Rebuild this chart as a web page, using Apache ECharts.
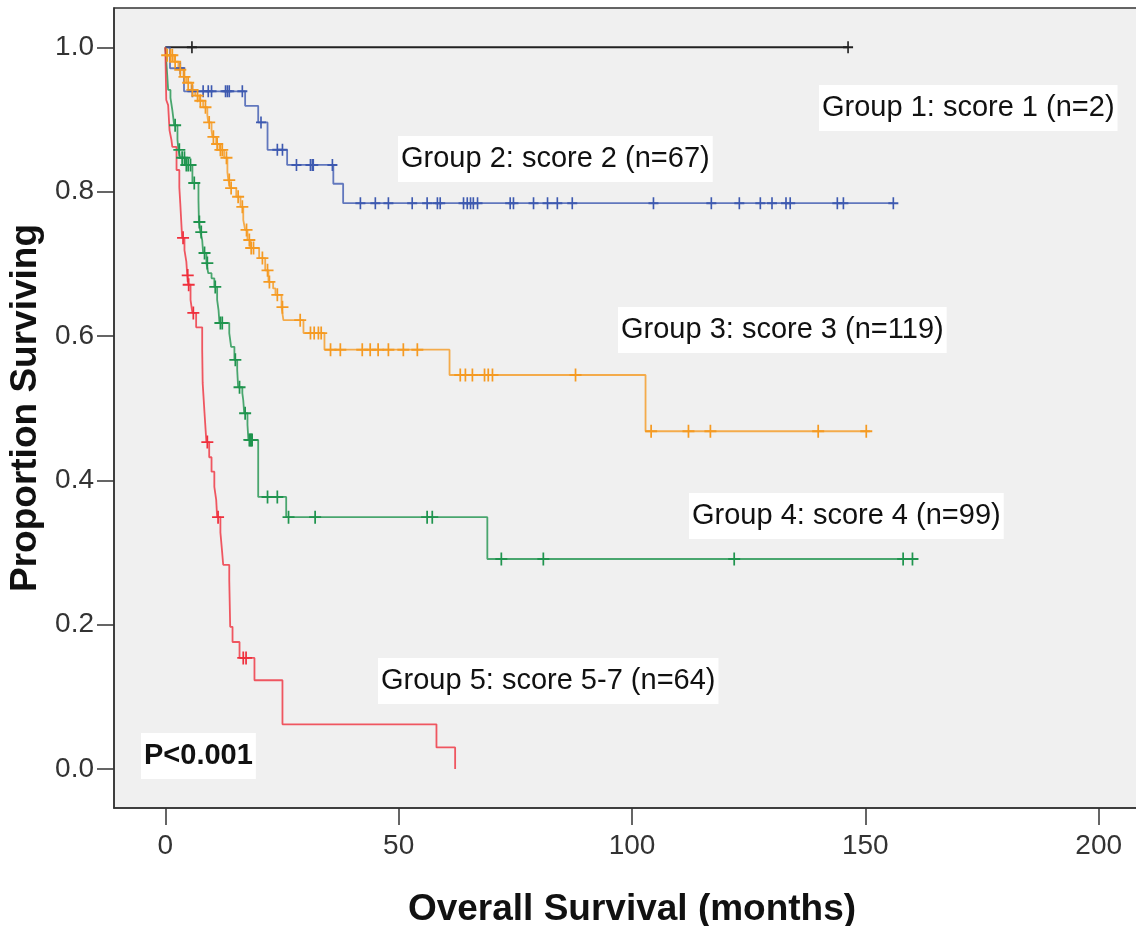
<!DOCTYPE html>
<html>
<head>
<meta charset="utf-8">
<script src="https://cdn.jsdelivr.net/npm/echarts@6/dist/echarts.min.js"></script>
<style>
html,body{margin:0;padding:0;background:#fff;}
#chart{width:1136px;height:926px;}
</style>
</head>
<body>
<div id="chart"></div>
<script>
// ---- Data ----
const xTicks = [0, 50, 100, 150, 200];
const yTicks = [0, 0.2, 0.4, 0.6, 0.8, 1.0];

const groupNames = ['Group 1: score 1 (n=2)', 'Group 2: score 2 (n=67)', 'Group 3: score 3 (n=119)', 'Group 4: score 4 (n=99)', 'Group 5: score 5-7 (n=64)'];

const g1Times = [0, 146.3];
const g1Surv  = [1, 1];
const g1Cens  = [5.7, 146.3];

const g2Times = [0, 1.0, 4.0, 17.1, 19.9, 21.9, 26.1, 36.0, 38.1, 156.0];
const g2Surv  = [1, 0.971, 0.939, 0.919, 0.896, 0.858, 0.837, 0.811, 0.784, 0.784];
const g2Cens  = [3.2, 5.8, 8.1, 9.2, 9.9, 12.9, 13.3, 13.7, 16.5, 20.5, 24.0, 25.1, 28.1, 31.1, 31.5, 31.7, 35.8,
  41.8, 45.0, 47.8, 52.9, 56.1, 58.3, 58.9, 63.9, 64.7, 65.4, 66.0, 66.9, 73.9, 74.6, 78.9, 81.9, 84.0, 87.2,
  104.6, 117.0, 123.0, 127.5, 130.0, 133.0, 133.9, 144.0, 145.3, 156.0];

const g3Times = [0, 0.2, 1.9, 2.8, 3.9, 4.5, 5.6, 6.4, 7.3, 8.1, 9.0, 9.2, 9.9, 10.1, 10.9, 11.6, 12.6, 13.3, 13.5, 13.9, 15.2, 16.1, 16.7, 17.1, 17.6, 18.2, 20.1, 21.4, 22.1, 23.1, 23.6, 24.9, 25.3, 29.6, 34.1, 60.9, 102.9, 151.0];
const g3Surv  = [1, 0.989, 0.980, 0.969, 0.959, 0.951, 0.941, 0.933, 0.926, 0.917, 0.906, 0.896, 0.885, 0.876, 0.866, 0.858, 0.847, 0.827, 0.816, 0.805, 0.793, 0.779, 0.761, 0.747, 0.733, 0.722, 0.708, 0.691, 0.675, 0.666, 0.657, 0.640, 0.622, 0.604, 0.581, 0.546, 0.468, 0.468];
const g3Cens  = [0.4, 1.1, 1.5, 2.1, 3.2, 4.1, 4.9, 5.8, 6.9, 7.5, 8.6, 9.4, 10.3, 11.1, 11.8, 12.2, 13.1, 13.7, 14.1, 15.6, 16.5, 17.4, 18.0, 18.4, 18.9, 20.8, 21.9, 22.3, 24.0, 25.1, 28.9, 31.1, 31.9, 32.8, 33.4,
  35.4, 37.5, 42.2, 43.9, 45.6, 47.8, 51.0, 54.0, 63.2, 64.3, 65.8, 68.4, 69.2, 70.1, 87.9, 104.1, 112.1, 116.8, 139.9, 150.2];

const g4Times = [0, 0.2, 0.4, 0.6, 1.1, 1.5, 1.9, 2.6, 2.8, 3.2, 4.3, 5.8, 7.1, 7.2, 7.5, 7.9, 8.1, 8.8, 9.2, 9.9, 10.5, 11.1, 11.4, 11.6, 13.7, 14.1, 14.8, 15.4, 15.6, 16.5, 16.7, 16.9, 17.6, 17.8, 19.9, 25.9, 69.0, 160.9];
const g4Surv  = [1, 0.982, 0.962, 0.941, 0.930, 0.913, 0.892, 0.872, 0.858, 0.847, 0.837, 0.812, 0.788, 0.758, 0.744, 0.733, 0.715, 0.701, 0.687, 0.680, 0.668, 0.650, 0.636, 0.618, 0.604, 0.585, 0.567, 0.553, 0.529, 0.521, 0.511, 0.493, 0.477, 0.456, 0.377, 0.349, 0.291, 0.291];
const g4Cens  = [2.1, 3.0, 3.6, 4.1, 4.5, 4.9, 5.4, 6.2, 7.3, 7.7, 8.4, 9.0, 10.7, 11.8, 12.2, 15.0, 15.9, 17.1, 18.0, 18.2, 18.4, 18.6, 21.9, 24.0, 26.4, 32.1, 56.1, 57.2, 72.0, 81.0, 121.9, 158.1, 160.1];

const g5Times = [0, 0.1, 0.2, 0.6, 0.9, 1.3, 1.5, 2.4, 3.0, 3.2, 3.6, 4.1, 4.5, 4.7, 4.9, 5.4, 5.8, 6.6, 7.9, 8.0, 8.4, 8.8, 9.4, 9.9, 10.5, 10.9, 11.1, 11.8, 12.1, 12.4, 13.7, 13.9, 14.4, 15.9, 19.1, 25.1, 58.1, 62.1];
const g5Surv  = [1, 0.962, 0.927, 0.920, 0.885, 0.872, 0.862, 0.830, 0.806, 0.784, 0.736, 0.719, 0.703, 0.684, 0.671, 0.650, 0.632, 0.612, 0.581, 0.535, 0.493, 0.453, 0.432, 0.412, 0.391, 0.373, 0.349, 0.328, 0.306, 0.283, 0.262, 0.197, 0.176, 0.154, 0.123, 0.062, 0.030, 0.0];
const g5Cens  = [3.8, 4.8, 5.0, 6.0, 9.0, 11.3, 16.7, 17.3];

const groupColors = ['#222222', '#3d59b0', '#f59a22', '#1f944e', '#ef2f3c'];

// ---- Build options ----
const groups = [
  {t: g1Times, s: g1Surv, c: g1Cens},
  {t: g2Times, s: g2Surv, c: g2Cens},
  {t: g3Times, s: g3Surv, c: g3Cens},
  {t: g4Times, s: g4Surv, c: g4Cens},
  {t: g5Times, s: g5Surv, c: g5Cens}
];
function survAt(g, time) {
  let v = g.s[0];
  for (let i = 0; i < g.t.length; i++) { if (g.t[i] <= time) v = g.s[i]; }
  return v;
}
const plusPath = 'path://M6,0L6,13M0,6.5L12,6.5';
const series = [];
groups.forEach((g, i) => {
  series.push({
    type: 'line', step: 'end', showSymbol: false, silent: true, z: 2,
    data: g.t.map((t, k) => [t, g.s[k]]),
    lineStyle: {color: groupColors[i], width: i === 0 ? 2 : 1.8, opacity: i === 0 ? 1 : 0.8}
  });
  series.push({
    type: 'scatter', silent: true, z: 3,
    symbol: plusPath, symbolSize: i === 1 || i === 0 ? [10, 12] : [12, 13],
    data: g.c.map(t => [t, survAt(g, t)]),
    itemStyle: {color: 'rgba(0,0,0,0)', borderColor: groupColors[i], borderWidth: 1.8, opacity: 1}
  });
});

const fam = '"Liberation Sans", Arial, sans-serif';
const labelFont = '29px ' + fam;
function box(text, x, y, bold) {
  return {
    type: 'text', left: x, top: y, z: 10,
    style: {
      text: text, font: (bold ? 'bold ' : '') + labelFont, fill: '#111',
      backgroundColor: '#ffffff', padding: [6, 3, 6, 3], lineHeight: 34
    }
  };
}

const chart = echarts.init(document.getElementById('chart'), null, {renderer: 'canvas'});
chart.setOption({
  animation: false,
  backgroundColor: '#ffffff',
  grid: {
    left: 114, top: 8, width: 1036, height: 800, outerBoundsMode: 'none', containLabel: false,
    show: true, backgroundColor: '#f0f0f0', borderColor: '#333', borderWidth: 1.5
  },
  xAxis: {
    type: 'value', min: -11, max: 211,
    name: 'Overall Survival (months)', nameLocation: 'middle', nameGap: 83,
    nameTextStyle: {fontSize: 37, fontWeight: 'bold', color: '#111', fontFamily: fam},
    axisLine: {show: true, onZero: false, lineStyle: {color: '#333', width: 1.5}},
    splitLine: {show: false},
    axisTick: {show: true, inside: false, length: 17, customValues: xTicks, lineStyle: {color: '#333', width: 1.5}},
    axisLabel: {customValues: xTicks, margin: 24, fontSize: 28, color: '#333', fontFamily: fam}
  },
  yAxis: {
    type: 'value', min: -0.054, max: 1.0545,
    name: 'Proportion Surviving', nameLocation: 'middle', nameGap: 64,
    nameTextStyle: {fontSize: 37, fontWeight: 'bold', color: '#111', fontFamily: fam},
    axisLine: {show: true, onZero: false, lineStyle: {color: '#333', width: 1.5}},
    splitLine: {show: false},
    axisTick: {show: true, inside: false, length: 17, customValues: yTicks, lineStyle: {color: '#333', width: 1.5}},
    axisLabel: {customValues: yTicks, margin: 20, fontSize: 28, color: '#333', fontFamily: fam,
      formatter: v => v.toFixed(1)}
  },
  series: series,
  graphic: [
    box(groupNames[0], 819, 85),
    box(groupNames[1], 398, 136),
    box(groupNames[2], 618, 307),
    box(groupNames[3], 689, 493),
    box(groupNames[4], 378, 658),
    box('P<0.001', 141, 733, true)
  ]
});
</script>
</body>
</html>
